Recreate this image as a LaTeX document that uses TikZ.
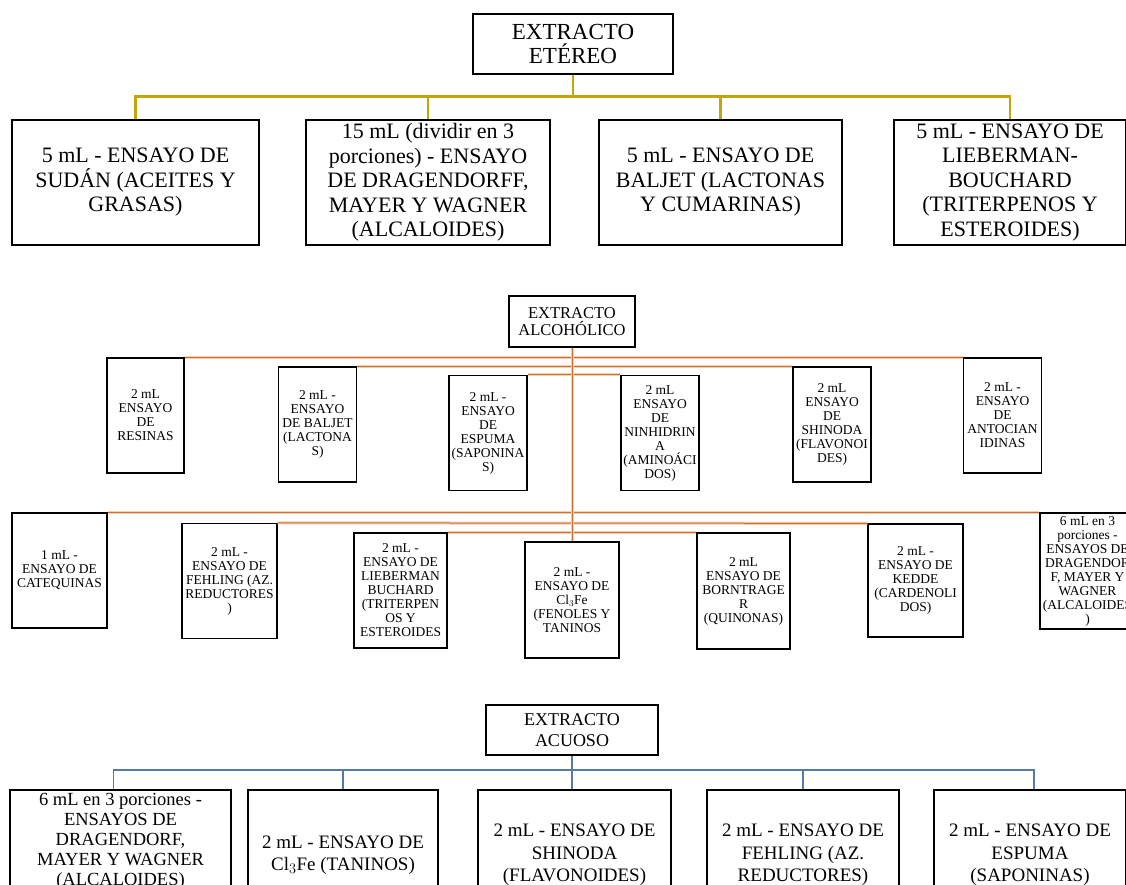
\documentclass[tikz,border=0pt]{standalone}
\usepackage{fontspec}
\setmainfont{Liberation Serif}
\usetikzlibrary{calc}
\definecolor{ylw}{RGB}{196,166,10}
\definecolor{org}{RGB}{200,112,55}
\definecolor{orgl}{RGB}{248,205,175}
\definecolor{blu}{RGB}{85,122,165}
\begin{document}
\begin{tikzpicture}[x=1pt,y=-1pt,
  bx/.style={draw=black, line width=1.3pt, fill=white, align=center, inner sep=1pt},
  ttl/.style={font=\fontsize{23}{24}\selectfont},
  big/.style={font=\fontsize{22}{24.5}\selectfont},
  mid/.style={font=\fontsize{16.5}{17}\selectfont},
  sml/.style={font=\fontsize{13.5}{14}\selectfont},
  bot/.style={font=\fontsize{19}{22.5}\selectfont},
  txt/.style={align=center, inner sep=0pt},
  ycon/.style={draw=ylw, line width=2.4pt},
  ocon/.style={draw=org, line width=1pt, preaction={draw=orgl, line width=3pt}},
  bcon/.style={draw=blu, line width=1.8pt}
]
\useasboundingbox (0,0) rectangle (1126,885);
\clip (0,0) rectangle (1126,885);
\fill[white] (0,0) rectangle (1126,885);

% ---------------- EXTRACTO ETEREO ----------------
\node[bx, ttl, minimum width=200, minimum height=60] (eth) at (573,44) {EXTRACTO\\ETÉREO};
\node[bx, big, minimum width=247, minimum height=125] (sud) at (135.5,182.5) {5 mL - ENSAYO DE\\SUDÁN (ACEITES Y\\GRASAS)};
\node[bx, big, minimum width=244, minimum height=125] (drg) at (428,182.5) {15 mL (dividir en 3\\porciones) - ENSAYO\\DE DRAGENDORFF,\\MAYER Y WAGNER\\(ALCALOIDES)};
\node[bx, big, minimum width=243, minimum height=125] (blj) at (720.5,182.5) {5 mL - ENSAYO DE\\BALJET (LACTONAS\\Y CUMARINAS)};
\node[bx, big, minimum width=232, minimum height=125] (lbm) at (1010,182.5) {5 mL - ENSAYO DE\\LIEBERMAN-\\BOUCHARD\\(TRITERPENOS Y\\ESTEROIDES)};
\draw[ycon] (eth.south) -- ++(0,23);
\draw[ycon] (sud.north) -- ++(0,-23) -| (lbm.north);
\draw[ycon] (drg.north) -- ++(0,-23);
\draw[ycon] (blj.north) -- ++(0,-23);

% ---------------- EXTRACTO ALCOHOLICO ----------------
\node[bx, mid, minimum width=126, minimum height=51] (alc) at (572,321.5) {EXTRACTO\\ALCOHÓLICO};
% row 1
\node[bx, sml, minimum width=77, minimum height=115] (res) at (145.5,415.5) {2 mL\\ENSAYO\\DE\\RESINAS};
\node[bx, sml, minimum width=78, minimum height=115] (bal) at (317.5,424.5) {2 mL -\\ENSAYO\\DE BALJET\\(LACTONA\\S)};
\node[bx, sml, minimum width=78, minimum height=115] (esp) at (488,433) {2 mL -\\ENSAYO\\DE\\ESPUMA\\(SAPONINA\\S)};
\node[bx, sml, minimum width=78, minimum height=115] (nin) at (660,433) {2 mL\\ENSAYO\\DE\\NINHIDRIN\\A\\(AMINOÁCI\\DOS)};
\node[bx, sml, minimum width=78, minimum height=115] (shi) at (832,424.5) {2 mL\\ENSAYO\\DE\\SHINODA\\(FLAVONOI\\DES)};
\node[bx, sml, minimum width=78, minimum height=115] (ant) at (1002.5,415.5) {2 mL -\\ENSAYO\\DE\\ANTOCIAN\\IDINAS};
% row 2
\node[bx, sml, minimum width=95, minimum height=115] (cat) at (59.5,570.5) {1 mL -\\ENSAYO DE\\CATEQUINAS};
\node[bx, sml, minimum width=95, minimum height=115] (feh) at (229.5,581) {2 mL -\\ENSAYO DE\\FEHLING (AZ.\\REDUCTORES\\)};
\node[bx, sml, minimum width=93, minimum height=115] (lie) at (400.5,590.5) {2 mL -\\ENSAYO DE\\LIEBERMAN\\BUCHARD\\(TRITERPEN\\OS Y\\ESTEROIDES};
\node[bx, sml, minimum width=94, minimum height=116] (clf) at (572,600) {2 mL -\\ENSAYO DE\\Cl$_3$Fe\\(FENOLES Y\\TANINOS};
\node[bx, sml, minimum width=93, minimum height=116] (bor) at (743.5,591) {2 mL\\ENSAYO DE\\BORNTRAGE\\R\\(QUINONAS)};
\node[bx, sml, minimum width=95, minimum height=113] (ked) at (915.5,580.5) {2 mL -\\ENSAYO DE\\KEDDE\\(CARDENOLI\\DOS)};
\node[bx, sml, minimum width=95, minimum height=116] (dra) at (1087.5,571) {6 mL en 3\\porciones -\\ENSAYOS DE\\DRAGENDOR\\F, MAYER Y\\WAGNER\\(ALCALOIDES\\)};
% connectors
\draw[ocon] (res.north east) -- (ant.north west);
\draw[ocon] (bal.north east) -- (shi.north west);
\draw[ocon] (esp.north east) -- (nin.north west);
\draw[ocon] (cat.north east) -- (dra.north west);
\draw[ocon] (feh.north east) -- (ked.north west);
\draw[ocon] (lie.north east) -- (bor.north west);
\draw[ocon] (alc.south) -- (clf.north);

% ---------------- EXTRACTO ACUOSO ----------------
\node[bx, font=\fontsize{18}{21}\selectfont, minimum width=172, minimum height=50] (acu) at (572,730) {EXTRACTO\\ACUOSO};
\node[bx, minimum width=221, minimum height=130] (a1) at (120.5,855) {};
\node[bx, bot, minimum width=190, minimum height=130] (a2) at (343,855) {2 mL - ENSAYO DE\\Cl$_3$Fe (TANINOS)};
\node[bx, bot, minimum width=193, minimum height=130] (a3) at (574.5,855) {2 mL - ENSAYO DE\\SHINODA\\(FLAVONOIDES)};
\node[bx, bot, minimum width=192, minimum height=130] (a4) at (803,855) {2 mL - ENSAYO DE\\FEHLING (AZ.\\REDUCTORES)};
\node[bx, bot, minimum width=192, minimum height=130] (a5) at (1030,855) {2 mL - ENSAYO DE\\ESPUMA\\(SAPONINAS)};
\node[txt, font=\fontsize{18.5}{20}\selectfont] (t1) at ($(a1.north)+(0,52)$) {6 mL en 3 porciones -\\ENSAYOS DE\\DRAGENDORF,\\MAYER Y WAGNER\\(ALCALOIDES)};
\coordinate (bb) at ($(acu.south)+(0,14)$);
\draw[bcon] (acu.south) -- (bb);
\draw[bcon] ($(a1.north)+(-7,0)$) |- (bb) -| ($(a5.north)+(4,0)$);
\draw[bcon] (a2.north) -- (a2.north |- bb);
\draw[bcon] (a3.north -| bb) -- (bb);
\draw[bcon] (a4.north) -- (a4.north |- bb);
\end{tikzpicture}
\end{document}
